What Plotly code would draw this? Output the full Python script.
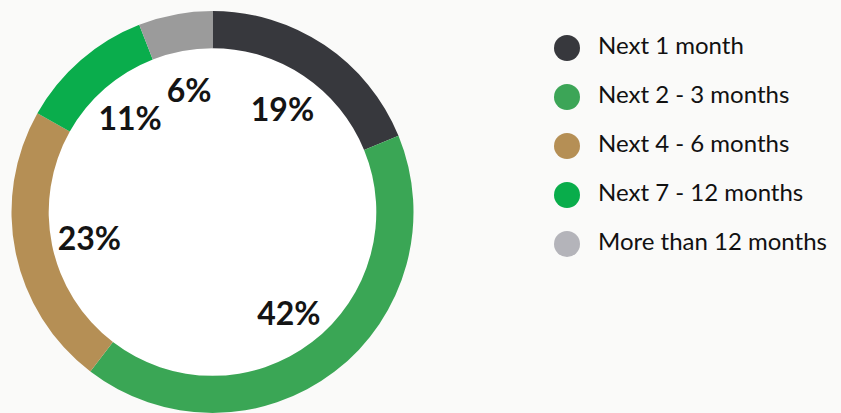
import math
import plotly.graph_objects as go

categories = ["Next 1 month", "Next 2 - 3 months", "Next 4 - 6 months",
              "Next 7 - 12 months", "More than 12 months"]
values = [19, 42, 23, 11, 6]
labels_pct = ["19%", "42%", "23%", "11%", "6%"]
slice_colors = ["#37383d", "#3aa655", "#b58f55", "#0aad4c", "#9b9b9b"]
legend_colors = ["#37383d", "#3ca557", "#b58f55", "#09ad4b", "#b4b4ba"]

W, H = 841, 413
BG = "#fafaf9"
HOLE = 0.815
# pie placement (px)
cx, cy, R = 212.5, 212, 201
dom_x = [(cx - R) / W, (cx + R) / W]
dom_y = [(H - cy - R) / H, (H - cy + R) / H]

fig = go.Figure()

fig.add_trace(go.Pie(
    labels=categories, values=values, hole=HOLE, sort=False,
    direction="clockwise", rotation=0,
    marker=dict(colors=slice_colors, line=dict(width=0)),
    textinfo="none", hoverinfo="label+percent", showlegend=False,
    domain=dict(x=dom_x, y=dom_y),
))

# percentage labels inside the hole at each slice's mid angle
total = sum(values)
lx, ly = [], []
cum = 0
r_lab = 0.625
shift = 5 / R
for v in values:
    mid = (cum + v / 2) / total * 2 * math.pi
    cum += v
    lx.append(r_lab * math.sin(mid))
    ly.append(r_lab * math.cos(mid) - shift)

fig.add_trace(go.Scatter(
    x=lx, y=ly, mode="text", text=labels_pct, xaxis="x2", yaxis="y2",
    textfont=dict(family="Lato", size=32, color="#141414", weight="bold"),
    textposition="middle center", showlegend=False, hoverinfo="skip",
    cliponaxis=False,
))

# custom legend
fig.add_trace(go.Scatter(
    x=[0] * len(categories), y=list(range(len(categories))), mode="markers",
    marker=dict(size=26, color=legend_colors, line=dict(width=0)),
    showlegend=False, hoverinfo="skip", cliponaxis=False,
))
fig.add_trace(go.Scatter(
    x=[1] * len(categories), y=list(range(len(categories))), mode="text",
    text=categories, textposition="middle right",
    textfont=dict(family="Lato", size=24, color="#111111"),
    showlegend=False, hoverinfo="skip", cliponaxis=False,
))

row0, step = 48, 49
fig.update_layout(
    width=W, height=H, margin=dict(l=0, r=0, t=0, b=0),
    paper_bgcolor=BG, plot_bgcolor="rgba(0,0,0,0)",
    xaxis=dict(domain=[567 / W, 598 / W], range=[0, 1], visible=False),
    yaxis=dict(domain=[0, 1], range=[(H - row0) / step, -row0 / step], visible=False),
    xaxis2=dict(domain=dom_x, range=[-1, 1], visible=False, anchor="y2"),
    yaxis2=dict(domain=dom_y, range=[-1, 1], visible=False, anchor="x2"),
    shapes=[dict(type="circle", xref="x2", yref="y2", x0=-HOLE, x1=HOLE,
                 y0=-HOLE, y1=HOLE, fillcolor="white", line=dict(width=0),
                 layer="below")],
)

fig.write_html(
    "out.html",
    config={"displayModeBar": False},
    post_script="document.body.style.margin='0';document.body.style.overflow='hidden';",
)
